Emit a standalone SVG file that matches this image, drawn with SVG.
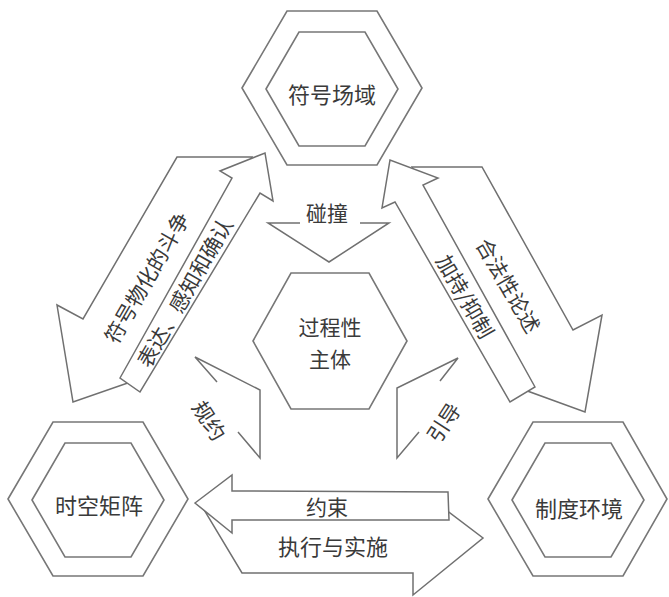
<svg xmlns="http://www.w3.org/2000/svg" width="669" height="597" viewBox="0 0 669 597">
<style>
.hex{fill:#fff;stroke:#777;stroke-width:1.6}
.arr{fill:#fff;stroke:#707070;stroke-width:1.5;stroke-linejoin:miter}
.ln{fill:none;stroke:#707070;stroke-width:1.5}
.t{font-family:"Noto Sans CJK SC","Noto Sans",sans-serif;font-size:22px;fill:#3a3a3a;text-anchor:middle;dominant-baseline:central}
.s{font-size:21px}
</style>
<rect width="669" height="597" fill="#fff"/>
<g id="node-fuhao">
<polygon class="hex" points="242,88 287,11 377,11 422,88 377,165 287,165"/>
<polygon class="hex" points="266,89 299,32 365,32 398,89 365,146 299,146"/>
<text class="t" x="332" y="93">符号场域</text>
</g>
<g id="node-shikong">
<polygon class="hex" points="8,499 53,422 143,422 188,499 143,576 53,576"/>
<polygon class="hex" points="32,500 65,443 131,443 164,500 131,557 65,557"/>
<text class="t" x="99" y="504">时空矩阵</text>
</g>
<g id="node-zhidu">
<polygon class="hex" points="488,499 533,422 623,422 667,499 623,576 533,576"/>
<polygon class="hex" points="512,500 545,443 611,443 644,500 611,557 545,557"/>
<text class="t" x="579" y="507">制度环境</text>
</g>
<g id="node-center">
<polygon class="hex" points="253,341 291,273 369,273 407,341 369,409 291,409"/>
<text class="t s" x="330" y="326">过程性</text>
<text class="t s" x="330" y="358">主体</text>
</g>
<g id="connectors">
<polygon class="arr" points="177,157 252,157 138,355 145,377 73,402 57,305 83,319"/>
<text class="t s" transform="translate(146,277) rotate(-60)">符号物化的斗争</text>
<polygon class="arr" points="120,378 232,178 220,171 265,153 273,201 260,193 140,392"/>
<text class="t s" transform="translate(184,292) rotate(-60)">表达、感知和确认</text>
<polygon class="arr" points="412,167 482,167 573,330 602,315 585,412 522,389 508,370"/>
<text class="t s" transform="translate(509,285) rotate(60)">合法性论述</text>
<polygon class="arr" points="535,387 423,185 438,178 390,160 382,208 395,202 510,402"/>
<text class="t s" transform="translate(466,296) rotate(60)">加持/抑制</text>
<polygon class="arr" points="203,508 413,508 425,494 483,538 413,595 413,573 242,573"/>
<polygon class="arr" points="195,503 232,475 232,491 448,492 449,520 232,520 232,533"/>
<text class="t s" x="327" y="506">约束</text>
<text class="t" x="333" y="545">执行与实施</text>
<polyline class="ln" points="300,223 268,223 329,262 389,223 360,223"/>
<text class="t s" x="327" y="212">碰撞</text>
<polyline class="ln" points="217,382 195,357 260,390 260,458 238,432"/>
<text class="t s" transform="translate(210,420) rotate(57)">规约</text>
<polyline class="ln" points="440,381 458,358 397,388 397,458 419,432"/>
<text class="t s" transform="translate(443,422) rotate(-57)">引导</text>
</g>
</svg>
